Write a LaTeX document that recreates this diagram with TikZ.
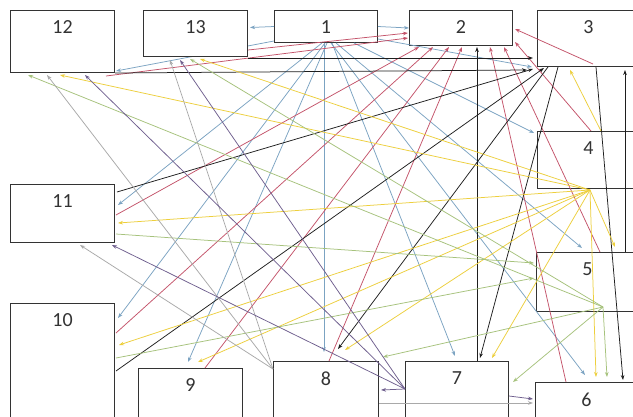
\documentclass[tikz,border=0pt]{standalone}
\usepackage{fontspec}
\setmainfont{Carlito}
\usepackage{tikz}
\usetikzlibrary{arrows.meta, positioning}
\definecolor{boxline}{HTML}{333333}
\definecolor{linkblue}{HTML}{7BA3C2}
\definecolor{linkred}{HTML}{C4536A}
\definecolor{linkblack}{HTML}{1E1E1E}
\definecolor{linkyellow}{HTML}{EDCF3C}
\definecolor{linkgreen}{HTML}{A6C27C}
\definecolor{linkgrey}{HTML}{A9A9A9}
\definecolor{linkpurple}{HTML}{6F5F8E}
\pgfdeclarelayer{under}
\pgfsetlayers{under,main}

\begin{document}
\begin{tikzpicture}[
    x=1pt, y=-1pt,
    box/.style={
      rectangle,
      draw=boxline,
      line width=1pt,
      fill=white,
      anchor=north west,
      inner sep=0pt,
      minimum width=104pt
    },
    num/.style={font=\fontsize{20}{24}\selectfont, text=boxline, inner sep=0pt},
    link/.style={line width=0.75pt, -{Stealth[length=5pt, width=3.6pt]}},
    blu/.style={link, draw=linkblue},
    rd/.style={link, draw=linkred},
    blk/.style={link, draw=linkblack},
    ylw/.style={link, draw=linkyellow},
    grn/.style={link, draw=linkgreen},
    gry/.style={link, draw=linkgrey},
    prp/.style={link, draw=linkpurple}
  ]
    \useasboundingbox (0,0) rectangle (633,416);
    \clip (0,0) rectangle (633,416);

    \node[box, minimum height=62pt] (n12) at (10,10) {};
    \node[box, minimum height=46pt] (n13) at (143,10) {};
    \node[box, minimum height=32pt, minimum width=103pt] (n1) at (274,10) {};
    \node[box, minimum height=35pt, minimum width=103pt] (n2) at (409,10) {};
    \node[box, minimum height=56pt, minimum width=102pt] (n3) at (537,10) {};
    \node[box, minimum height=57pt, minimum width=102pt] (n4) at (537,131) {};
    \node[box, minimum height=59pt, minimum width=102pt] (n5) at (536,252) {};
    \node[box, minimum height=44pt, minimum width=102pt] (n6) at (535,382) {};
    \node[box, minimum height=62pt, minimum width=103pt] (n7) at (405,361) {};
    \node[box, minimum height=62pt, minimum width=105pt] (n8) at (273,361) {};
    \node[box, minimum height=54pt] (n9) at (138,368) {};
    \node[box, minimum height=118pt] (n10) at (10,303) {};
    \node[box, minimum height=58pt] (n11) at (10,184) {};

    \begin{pgfonlayer}{under}
      \fill[white] (0,0) rectangle (633,416);
      \draw[blu] ([shift={(0,-2)}]n1.south west) -- ([shift={(1,-2)}]n12.south east);
    \end{pgfonlayer}

    \coordinate (hub4) at ([shift={(53,1)}]n4.south west);
    \coordinate (hub5) at ([shift={(67,55)}]n5.north west);
    \coordinate (hub7) at ([shift={(0,28)}]n7.north west);
    \coordinate (hub8) at ([shift={(0,8)}]n8.north west);

    \draw[blu] (n1.west) -- ([shift={(2,-6)}]n13.east);
    \draw[blu] (n1.east) -- (n2.west);
    \draw[blu] ([shift={(48,0)}]n1.south west) -- ([shift={(3,21)}]n11.north east);
    \draw[blu] ([shift={(51,0)}]n1.south west) -- ([shift={(3,15)}]n10.north east);
    \draw[blu] ([shift={(53,0)}]n1.south west) -- ([shift={(50,-6)}]n9.north west);
    \draw[blu] ([shift={(50,0)}]n1.south west) -- ([shift={(51,-9)}]n8.north west);
    \draw[blu] ([shift={(58,0)}]n1.south west) -- ([shift={(50,-5)}]n7.north west);
    \draw[blu] ([shift={(57,0)}]n1.south west) -- ([shift={(50,-7)}]n6.north west);
    \draw[blu] ([shift={(62,0)}]n1.south west) -- ([shift={(46,-4)}]n5.north west);
    \draw[blu] ([shift={(80,0)}]n1.south west) -- ([shift={(-3,2)}]n4.north west);
    \draw[blu] ([shift={(0,-4)}]n1.south east) -- ([shift={(-5,0)}]n3.south west);

    \draw[rd] ([shift={(-9,3)}]n12.south east) -- ([shift={(-1,10)}]n2.west);
    \draw[rd] ([shift={(0,-7)}]n13.south east) -- ([shift={(-1,5)}]n2.west);
    \draw[rd] ([shift={(1,31)}]n11.north east) -- ([shift={(10,1)}]n2.south west);
    \draw[rd] ([shift={(1,30)}]n10.north east) -- ([shift={(24,1)}]n2.south west);
    \draw[rd] ([shift={(67,0)}]n9.north west) -- ([shift={(40,1)}]n2.south west);
    \draw[rd] ([shift={(56,0)}]n8.north west) -- ([shift={(53,1)}]n2.south west);
    \draw[rd] ([shift={(31,0)}]n6.north west) -- ([shift={(81,1)}]n2.south west);
    \draw[rd] ([shift={(64,0)}]n5.north west) -- ([shift={(95,1)}]n2.south west);
    \draw[rd] ([shift={(54,0)}]n4.north west) -- ([shift={(2,-4)}]n2.south east);
    \draw[rd] ([shift={(56,-3)}]n3.south west) -- ([shift={(2,1)}]n2.east);

    \draw[blk] ([shift={(0,1)}]n13.south east) -- ([shift={(-4,-9)}]n3.south west);
    \draw[blk] (n12.south east) -- ([shift={(-10,3)}]n3.south west);
    \draw[blk] ([shift={(2,8)}]n11.north east) -- ([shift={(-4,2)}]n3.south west);
    \draw[blk] ([shift={(1,68)}]n10.north east) -- ([shift={(7,1)}]n3.south west);
    \draw[blk] ([shift={(72,0)}]n7.north west) -- ([shift={(68,1)}]n2.south west);
    \draw[blk] ([shift={(11,0)}]n3.south west) -- ([shift={(65,-12)}]n8.north west);
    \draw[blk] ([shift={(21,0)}]n3.south west) -- ([shift={(75,-3)}]n7.north west);
    \draw[blk] ([shift={(59,0)}]n3.south west) -- ([shift={(88,-2)}]n6.north west);
    \draw[blk] ([shift={(89,0)}]n5.north west) -- ([shift={(88,3)}]n3.south west);

    \draw[ylw] (hub4) -- ([shift={(50,2)}]n12.south west);
    \draw[ylw] (hub4) -- ([shift={(57,2)}]n13.south west);
    \draw[ylw] (hub4) -- ([shift={(3,39)}]n11.north east);
    \draw[ylw] (hub4) -- ([shift={(4,42)}]n10.north east);
    \draw[ylw] (hub4) -- ([shift={(60,-6)}]n9.north west);
    \draw[ylw] (hub4) -- ([shift={(72,-11)}]n8.north west);
    \draw[ylw] (hub4) -- ([shift={(87,-3)}]n7.north west);
    \draw[ylw] (hub4) -- ([shift={(61,-5)}]n6.north west);
    \draw[ylw] (hub4) -- ([shift={(79,-5)}]n5.north west);
    \draw[ylw] ([shift={(64,0)}]n4.north west) -- ([shift={(33,3)}]n3.south west);

    \draw[grn] (hub5) -- ([shift={(18,2)}]n12.south west);
    \draw[grn] (hub5) -- ([shift={(47,2)}]n13.south west);
    \draw[grn] (hub5) -- ([shift={(4,-4)}]n8.north east);
    \draw[grn] (hub5) -- ([shift={(4,21)}]n7.north east);
    \draw[grn] (hub5) -- ([shift={(72,-5)}]n6.north west);
    \draw[grn] ([shift={(1,-9)}]n11.south east) -- ([shift={(-2,11)}]n5.north west);
    \draw[grn] ([shift={(1,55)}]n10.north east) -- ([shift={(-2,26)}]n5.north west);

    \draw[gry] (hub8) -- ([shift={(37,2)}]n12.south west);
    \draw[gry] (hub8) -- ([shift={(27,3)}]n13.south west);
    \draw[gry] (hub8) -- ([shift={(70,2)}]n11.south west);
    \draw[gry] ([shift={(0,42)}]n8.north east) -- ([shift={(-2,21)}]n6.north west);

    \draw[prp] (hub7) -- ([shift={(2,29)}]n8.north east);
    \draw[prp] (hub7) -- ([shift={(75,2)}]n12.south west);
    \draw[prp] (hub7) -- ([shift={(37,3)}]n13.south west);
    \draw[prp] (hub7) -- ([shift={(-3,2)}]n11.south east);
    \draw[prp] ([shift={(0,35)}]n7.north east) -- ([shift={(-2,17)}]n6.north west);

    \node[num, below=10.5pt of n12.north] (t12) {12};
    \node[num, below=10.5pt of n13.north] (t13) {13};
    \node[num, below=10.5pt of n1.north] (t1) {1};
    \node[num, below=10.5pt of n2.north] (t2) {2};
    \node[num, below=10.5pt of n3.north] (t3) {3};
    \node[num, below=10.5pt of n4.north] (t4) {4};
    \node[num, below=10.5pt of n5.north] (t5) {5};
    \node[num, below=10.5pt of n6.north] (t6) {6};
    \node[num, below=10.5pt of n7.north] (t7) {7};
    \node[num, below=10.5pt of n8.north] (t8) {8};
    \node[num, below=10.5pt of n9.north] (t9) {9};
    \node[num, below=10.5pt of n10.north] (t10) {10};
    \node[num, below=10.5pt of n11.north] (t11) {11};
  \end{tikzpicture}
\end{document}
